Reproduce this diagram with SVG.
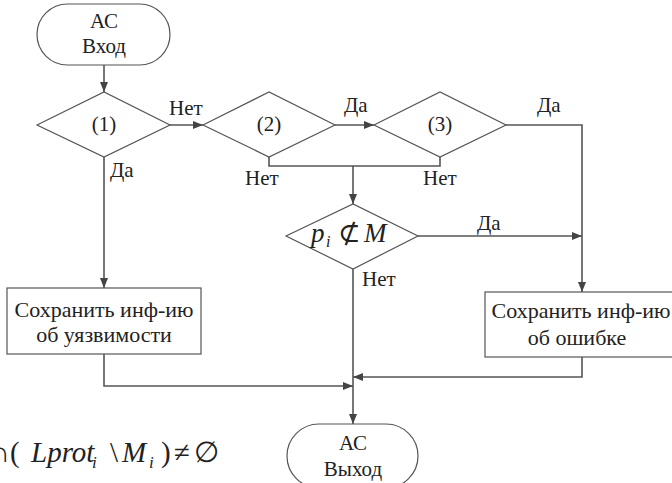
<svg xmlns="http://www.w3.org/2000/svg" width="672" height="483" viewBox="0 0 672 483">
<defs>
<style>
.shape{fill:#fff;stroke:#555;stroke-width:1.2}
.conn{fill:none;stroke:#555;stroke-width:1.6}
</style>
<marker id="ah" viewBox="0 0 10 8" refX="10" refY="4" markerWidth="10" markerHeight="8" markerUnits="userSpaceOnUse" orient="auto">
<path d="M0,0 L10,4 L0,8 Z" fill="#444"/>
</marker>
</defs>
<rect width="672" height="483" fill="#fff"/>
<g id="connectors">
<line class="conn" x1="104" y1="65" x2="104" y2="92" marker-end="url(#ah)"/>
<line class="conn" x1="170" y1="125" x2="203" y2="125" marker-end="url(#ah)"/>
<line class="conn" x1="335" y1="125" x2="374" y2="125" marker-end="url(#ah)"/>
<polyline class="conn" points="269,157 269,166 440,166 440,157"/>
<line class="conn" x1="353" y1="166" x2="353" y2="204" marker-end="url(#ah)"/>
<polyline class="conn" points="506,125 582,125 582,292" marker-end="url(#ah)"/>
<line class="conn" x1="418" y1="236" x2="582" y2="236" marker-end="url(#ah)"/>
<line class="conn" x1="104" y1="157" x2="104" y2="288" marker-end="url(#ah)"/>
<line class="conn" x1="353" y1="269" x2="353" y2="424" marker-end="url(#ah)"/>
<polyline class="conn" points="104,354 104,386 353,386" marker-end="url(#ah)"/>
<polyline class="conn" points="582,357 582,377 353,377" marker-end="url(#ah)"/>
<g font-family="Liberation Serif, DejaVu Serif, serif" font-size="21" fill="#222">
<text x="169" y="115">Нет</text>
<text x="110" y="177">Да</text>
<text x="344" y="112">Да</text>
<text x="245" y="185">Нет</text>
<text x="423" y="185">Нет</text>
<text x="537" y="112">Да</text>
<text x="477" y="230">Да</text>
<text x="362" y="286">Нет</text>
</g>
</g>
<g id="start" font-family="Liberation Serif, DejaVu Serif, serif" font-size="21" fill="#222" text-anchor="middle">
<rect class="shape" x="37" y="4" width="133" height="61" rx="30.5" ry="30.5"/>
<text x="104" y="28">АС</text>
<text x="104" y="53">Вход</text>
</g>
<g id="d1" font-family="Liberation Serif, DejaVu Serif, serif" font-size="21" fill="#222" text-anchor="middle">
<polygon class="shape" points="37,125 104,92 170,125 104,157"/>
<text x="104" y="131">(1)</text>
</g>
<g id="d2" font-family="Liberation Serif, DejaVu Serif, serif" font-size="21" fill="#222" text-anchor="middle">
<polygon class="shape" points="203,125 269,92 335,125 269,157"/>
<text x="269" y="131">(2)</text>
</g>
<g id="d3" font-family="Liberation Serif, DejaVu Serif, serif" font-size="21" fill="#222" text-anchor="middle">
<polygon class="shape" points="374,125 440,92 506,125 440,157"/>
<text x="440" y="131">(3)</text>
</g>
<g id="d4" font-family="Liberation Serif, DejaVu Serif, serif" font-size="27" fill="#222">
<polygon class="shape" points="286,236 353,204 418,236 353,269"/>
<text y="242"><tspan x="311" font-style="italic">p</tspan><tspan x="326" y="247" font-style="italic" font-size="16">i</tspan><tspan x="338" y="242">⊄</tspan><tspan x="364" font-style="italic">M</tspan></text>
</g>
<g id="box-left" font-family="Liberation Serif, DejaVu Serif, serif" font-size="22" fill="#222" text-anchor="middle">
<rect class="shape" x="7" y="288" width="194" height="66"/>
<text x="104" y="317">Сохранить инф-ию</text>
<text x="104" y="342">об уязвимости</text>
</g>
<g id="box-right" font-family="Liberation Serif, DejaVu Serif, serif" font-size="22" fill="#222" text-anchor="middle">
<rect class="shape" x="485" y="292" width="194" height="65"/>
<text x="581" y="318">Сохранить инф-ию</text>
<text x="577" y="345">об ошибке</text>
</g>
<g id="exit" font-family="Liberation Serif, DejaVu Serif, serif" font-size="21" fill="#222" text-anchor="middle">
<rect class="shape" x="287" y="424" width="131" height="64" rx="32" ry="32"/>
<text x="353" y="450">АС</text>
<text x="353" y="476">Выход</text>
</g>
<g id="formula" font-family="Liberation Serif, DejaVu Serif, serif" font-size="29" fill="#222">
<text y="462"><tspan x="-11">∩</tspan><tspan x="10">(</tspan><tspan x="31" font-style="italic">Lprot</tspan><tspan x="92" y="468" font-style="italic" font-size="17">i</tspan><tspan x="110" y="462">\</tspan><tspan x="122" font-style="italic">M</tspan><tspan x="149" y="468" font-style="italic" font-size="17">i</tspan><tspan x="161" y="462">)</tspan><tspan x="174">≠</tspan><tspan x="194">∅</tspan></text>
</g>
</svg>
